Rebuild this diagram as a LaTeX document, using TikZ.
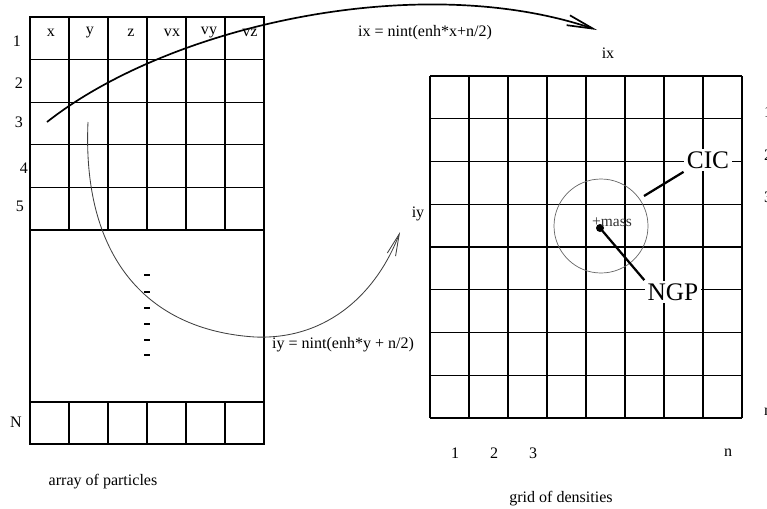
\documentclass[tikz,border=0pt]{standalone}
\usepackage{fontspec}
\setmainfont{Liberation Serif}
\usetikzlibrary{arrows.meta}

\begin{document}
\begin{tikzpicture}
  [x=0.025cm,y=-0.025cm,line width=0.8pt,
   every node/.style={font=\fontsize{11.4}{13}\selectfont,inner sep=1pt},
   bigtag/.style={font=\fontsize{18}{20}\selectfont,fill=white,inner sep=2pt},
   masstag/.style={font=\fontsize{11}{13}\selectfont,text=black!80}]
\useasboundingbox (0,0) rectangle (767,508);

  % array of particles
  \draw (30,17) rectangle (264,444);
  \foreach \i in {1,...,5}
    \draw (30+39*\i,17) -- (30+39*\i,230);
  \foreach \i in {1,...,5}
    \draw (30,17+42.6*\i) -- (264,17+42.6*\i);
  \draw (30,402) -- (264,402);
  \foreach \i in {1,...,5}
    \draw (30+39*\i,402) -- (30+39*\i,444);

  \node (hx)  at (51,33)  {x};
  \node (hy)  at (90,33)  {y};
  \node (hz)  at (131,33) {z};
  \node (hvx) at (172,33) {vx};
  \node (hvy) at (209,33) {vy};
  \node (hvz) at (250,33) {vz};

  \node (r1) at (17,41)  {1};
  \node (r2) at (19,83)  {2};
  \node (r3) at (19,122) {3};
  \node (r4) at (24,168) {4};
  \node (r5) at (20,206) {5};
  \node (rN) at (16,422) {N};

  \foreach \y in {275,292,308,324,340,355}
    \draw (144,\y) -- (150,\y);

  \node (arr) at (103,482) {array of particles};

  % grid of densities
  \foreach \i in {0,...,8}
    \draw (430+39*\i,76) -- (430+39*\i,418);
  \foreach \i in {0,...,8}
    \draw (430,76+42.75*\i) -- (742,76+42.75*\i);

  \node (c1) at (455,453) {1};
  \node (c2) at (494,453) {2};
  \node (c3) at (533,453) {3};
  \node (cn) at (728,453) {n};
  \node (g1) at (768,112) {1};
  \node (g2) at (768,155) {2};
  \node (g3) at (768,197) {3};
  \node (gn) at (768,412) {n};
  \node (grd) at (561,499) {grid of densities};

  \node (ix) at (608,53)  {ix};
  \node (iy) at (418,214) {iy};
  \node (fx) at (425,33)  {ix = nint(enh*x+n/2)};
  \node (fy) at (343,345) {iy = nint(enh*y + n/2)};

  % CIC / NGP
  \draw[black!60,line width=0.5pt] (601,226) circle[radius=47];
  \coordinate (mass) at (600,228);
  \fill (mass) circle[radius=4];
  \node[masstag] (masslbl) at (612,222) {+mass};
  \node[bigtag] (cic) at (708,160) {CIC};
  \node[bigtag] (ngp) at (673,292) {NGP};
  \coordinate (cicfoot) at (644,196);
  \draw[line width=1.6pt] (cicfoot) -- (cic.south west);
  \draw[line width=1.6pt] (mass) -- (ngp.north west);

  % index arrows
  \coordinate (xstart) at (47,122);
  \coordinate (xend) at (597,30);
  \coordinate (ystart) at (88,122);
  \coordinate (ymid) at (255,337);
  \coordinate (yend) at (400,232);
  \draw[line width=1.2pt,-{Straight Barb[length=6.5mm,width=2.6mm]}]
    (xstart) .. controls (170,25) and (420,-30) .. (xend);
  \draw[black!75,line width=0.6pt,-{Straight Barb[length=5.5mm,width=2.2mm]}]
    (ystart) .. controls (82,255) and (145,330) .. (ymid)
    .. controls (330,340) and (378,290) .. (yend);
\end{tikzpicture}
\end{document}
